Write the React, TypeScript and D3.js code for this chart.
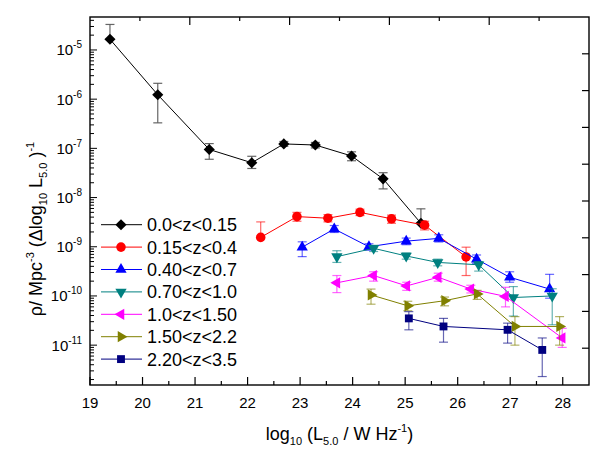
import React from "react";
import * as d3 from "d3";

type Pt = [number, number, number | null, number | null];

const seriesNames = ["0.0<z<0.15", "0.15<z<0.4", "0.40<z<0.7", "0.70<z<1.0", "1.0<z<1.50", "1.50<z<2.2", "2.20<z<3.5"];
const seriesColors = ["#000000", "#ff0000", "#0000ff", "#008080", "#ff00ff", "#808000", "#000080"];
const seriesSymbols = ["diamond", "circle", "up", "down", "left", "right", "square"];

// [log10 L, rho, lower, upper]
const s0: Pt[] = [
  [19.38, 1.65e-5, null, 3.3e-5],
  [20.29, 1.23e-6, 3.3e-7, 2.1e-6],
  [21.27, 9.5e-8, 6.0e-8, 1.25e-7],
  [22.08, 5.1e-8, 3.9e-8, 6.9e-8],
  [22.69, 1.23e-7, 1.1e-7, 1.38e-7],
  [23.29, 1.17e-7, 1.02e-7, 1.32e-7],
  [23.98, 7.0e-8, 5.6e-8, 8.5e-8],
  [24.58, 2.4e-8, 1.5e-8, 3.2e-8],
  [25.3, 3.0e-9, null, 5.9e-9],
];
const s1: Pt[] = [
  [22.25, 1.55e-9, null, 3.2e-9],
  [22.94, 4.1e-9, 3.3e-9, 5.0e-9],
  [23.53, 3.8e-9, 3.2e-9, 4.5e-9],
  [24.14, 5.0e-9, 4.3e-9, 5.8e-9],
  [24.74, 3.7e-9, 3.0e-9, 4.4e-9],
  [25.37, 2.75e-9, 2.2e-9, 3.3e-9],
  [26.16, 6.2e-10, 2.6e-10, 9.8e-10],
];
const s2: Pt[] = [
  [23.04, 9.8e-10, 6.3e-10, 1.26e-9],
  [23.65, 2.3e-9, 1.95e-9, 2.7e-9],
  [24.31, 1.0e-9, 8.5e-10, 1.15e-9],
  [25.02, 1.3e-9, 1.1e-9, 1.5e-9],
  [25.64, 1.48e-9, 1.25e-9, 1.75e-9],
  [26.36, 5.6e-10, 4.6e-10, 6.8e-10],
  [26.99, 2.4e-10, 1.9e-10, 3.1e-10],
  [27.75, 1.38e-10, 9e-11, 2.75e-10],
];
const s3: Pt[] = [
  [23.7, 6.3e-10, 4.8e-10, 8.3e-10],
  [24.4, 9.3e-10, 8.0e-10, 1.07e-9],
  [25.02, 6.5e-10, 5.6e-10, 7.5e-10],
  [25.62, 4.8e-10, 4.1e-10, 5.6e-10],
  [26.4, 4.3e-10, 3.2e-10, 5.0e-10],
  [27.06, 9.3e-11, 3.9e-11, 1.55e-10],
  [27.8, 1.0e-10, 2.6e-11, 1.4e-10],
];
const s4: Pt[] = [
  [23.7, 1.85e-10, 1.17e-10, 2.6e-10],
  [24.4, 2.6e-10, 2.0e-10, 3.1e-10],
  [25.03, 1.6e-10, 1.3e-10, 1.9e-10],
  [25.63, 2.4e-10, 2.0e-10, 2.9e-10],
  [26.25, 1.38e-10, 1.15e-10, 1.65e-10],
  [26.91, 9.8e-11, 6.0e-11, 1.5e-10],
  [27.99, 1.4e-11, 9e-12, 2.2e-11],
];
const s5: Pt[] = [
  [24.35, 1.05e-10, 6.8e-11, 1.38e-10],
  [25.05, 6.3e-11, 5.0e-11, 7.8e-11],
  [25.75, 8.0e-11, 6.3e-11, 9.5e-11],
  [26.37, 1.1e-10, 8.5e-11, 1.3e-10],
  [27.09, 2.4e-11, 1.0e-11, 3.8e-11],
  [27.94, 2.4e-11, 1.0e-11, 3.8e-11],
];
const s6: Pt[] = [
  [25.07, 3.5e-11, 2.05e-11, 4.8e-11],
  [25.73, 2.4e-11, 1.15e-11, 3.5e-11],
  [26.95, 2.05e-11, 1.1e-11, 2.8e-11],
  [27.61, 8.0e-12, 2.3e-12, 1.4e-11],
];
const allSeries = [s0, s1, s2, s3, s4, s5, s6];

const xTicks = [19, 20, 21, 22, 23, 24, 25, 26, 27, 28];
const yDecades = [-11, -10, -9, -8, -7, -6, -5];

const W = 614, H = 457;
const L = 90, R = 589, T = 17, B = 385;
const FONT = "'Liberation Sans', Arial, Helvetica, sans-serif";

const x = d3.scaleLinear().domain([19, 28.5]).range([L, R]);
const y = d3.scaleLog().domain([Math.pow(10, -11.81), Math.pow(10, -4.33)]).range([B, T]);
const topScale = d3.scaleLinear().domain([0, 10]).range([L, R]);
const rightScale = d3.scaleLinear().domain([0, 10]).range([B, T]);

function symbolPath(kind: string): { d: string; rot: number } {
  const tri = d3.symbol().type(d3.symbolTriangle).size(55)() as string;
  switch (kind) {
    case "diamond":
      return { d: d3.symbol().type(d3.symbolSquare).size(62)() as string, rot: 45 };
    case "circle":
      return { d: d3.symbol().type(d3.symbolCircle).size(72)() as string, rot: 0 };
    case "up":
      return { d: tri, rot: 0 };
    case "down":
      return { d: tri, rot: 180 };
    case "left":
      return { d: tri, rot: -90 };
    case "right":
      return { d: tri, rot: 90 };
    default:
      return { d: d3.symbol().type(d3.symbolSquare).size(62)() as string, rot: 0 };
  }
}

const Marker = ({ cx, cy, kind, color }: { cx: number; cy: number; kind: string; color: string }) => {
  const s = symbolPath(kind);
  return <path d={s.d} transform={`translate(${cx},${cy}) rotate(${s.rot})`} fill={color} />;
};

export default function App() {
  const line = d3
    .line<Pt>()
    .x((p) => x(p[0]))
    .y((p) => y(p[1]));

  const leftTicks: { v: number; major: boolean }[] = [];
  for (let e = -12; e <= -5; e++) {
    for (let m = 1; m <= 9; m++) {
      const v = m * Math.pow(10, e);
      if (v >= y.domain()[0] && v <= y.domain()[1]) leftTicks.push({ v, major: m === 1 });
    }
  }
  const minorX = d3.range(19.5, 28.5, 1);

  const cap = 4.5;
  const legendY0 = 224.7;
  const legendDy = 22.4;

  return (
    <svg width={W} height={H} style={{ position: "absolute", left: 0, top: 0, background: "#fff" }} fontFamily={FONT}>
      <rect x={0} y={0} width={W} height={H} fill="#fff" />
      {/* series */}
      {allSeries.map((s, i) => {
        const color = seriesColors[i];
        return (
          <g key={i}>
            <path d={line(s) as string} fill="none" stroke={color} strokeWidth={1} />
            {s.map((p, j) => {
              const px = x(p[0]);
              const yc = y(p[1]);
              const yl = p[2] != null ? y(p[2]) : yc;
              const yh = p[3] != null ? y(p[3]) : yc;
              return (
                <g key={j} stroke={i === 0 ? "#555" : color} strokeOpacity={i === 0 ? 0.9 : 0.6} strokeWidth={1.2}>
                  <line x1={px} x2={px} y1={yl} y2={yh} />
                  {p[3] != null && <line x1={px - cap} x2={px + cap} y1={yh} y2={yh} />}
                  {p[2] != null && <line x1={px - cap} x2={px + cap} y1={yl} y2={yl} />}
                </g>
              );
            })}
            {s.map((p, j) => (
              <Marker key={"m" + j} cx={x(p[0])} cy={y(p[1])} kind={seriesSymbols[i]} color={color} />
            ))}
          </g>
        );
      })}

      {/* frame */}
      <rect x={L} y={T} width={R - L} height={B - T} fill="none" stroke="#000" strokeWidth={1.4} />

      {/* bottom ticks */}
      {xTicks.map((t) => (
        <g key={"xt" + t}>
          <line x1={x(t)} x2={x(t)} y1={B} y2={B - 8} stroke="#000" strokeWidth={1.2} />
          <text x={x(t)} y={408} textAnchor="middle" fontSize={15}>
            {t}
          </text>
        </g>
      ))}
      {minorX.map((t) => (
        <line key={"xm" + t} x1={x(t)} x2={x(t)} y1={B} y2={B - 4} stroke="#000" strokeWidth={1.2} />
      ))}

      {/* top ticks */}
      {d3.range(1, 10).map((k) => (
        <line key={"tt" + k} x1={topScale(k)} x2={topScale(k)} y1={T} y2={T + (k % 2 === 0 ? 8 : 4)} stroke="#000" strokeWidth={1.2} />
      ))}

      {/* right ticks */}
      {d3.range(1, 10).map((k) => (
        <line key={"rt" + k} x1={R} x2={R - 7} y1={rightScale(k)} y2={rightScale(k)} stroke="#000" strokeWidth={1.2} />
      ))}

      {/* left ticks */}
      {leftTicks.map((t, i) => (
        <line key={"lt" + i} x1={L} x2={L + (t.major ? 7 : 4)} y1={y(t.v)} y2={y(t.v)} stroke="#000" strokeWidth={1} />
      ))}
      {yDecades.map((e) => (
        <text key={"yl" + e} x={82} y={y(Math.pow(10, e)) + 5.5} textAnchor="end" fontSize={15}>
          10
          <tspan fontSize={10} dy={-7}>
            {String(e).replace("-", "-")}
          </tspan>
        </text>
      ))}

      {/* axis titles */}
      <text x={(L + R) / 2} y={440} textAnchor="middle" fontSize={18}>
        log
        <tspan fontSize={11} dy={5}>10</tspan>
        <tspan dy={-5}> (L</tspan>
        <tspan fontSize={11} dy={5}>5.0</tspan>
        <tspan dy={-5}> / W Hz</tspan>
        <tspan fontSize={11} dy={-8}>-1</tspan>
        <tspan dy={8}>)</tspan>
      </text>
      <text transform={`translate(42,229) rotate(-90)`} textAnchor="middle" fontSize={18}>
        ρ/ Mpc
        <tspan fontSize={11} dy={-8}>-3</tspan>
        <tspan dy={8}> (Δlog</tspan>
        <tspan fontSize={11} dy={5}>10</tspan>
        <tspan dy={-5}> L</tspan>
        <tspan fontSize={11} dy={5}>5.0</tspan>
        <tspan dy={-5}> )</tspan>
        <tspan fontSize={11} dy={-8}>-1</tspan>
      </text>

      {/* legend */}
      {seriesNames.map((n, i) => {
        const ly = legendY0 + i * legendDy;
        return (
          <g key={"lg" + i}>
            <line x1={101} x2={142} y1={ly} y2={ly} stroke={seriesColors[i]} strokeWidth={1} />
            <Marker cx={121} cy={ly} kind={seriesSymbols[i]} color={seriesColors[i]} />
            <text x={147} y={ly + 6.5} fontSize={18}>
              {n}
            </text>
          </g>
        );
      })}
    </svg>
  );
}
